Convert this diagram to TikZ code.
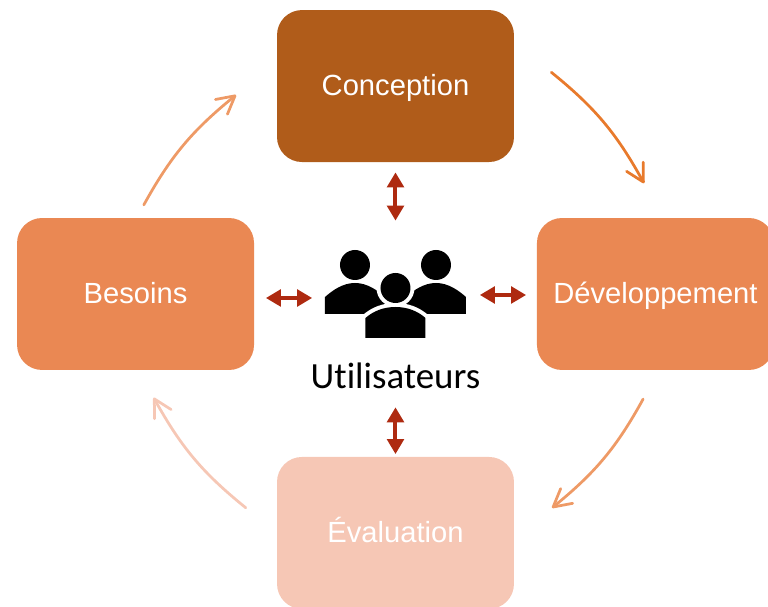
\documentclass[tikz,border=0pt]{standalone}
\usepackage{fontspec}
\setmainfont{Liberation Sans}
\newfontfamily\usrfont[Ligatures=NoCommon]{Carlito}
\usetikzlibrary{positioning}
\usetikzlibrary{arrows.meta}
\definecolor{conColor}{HTML}{B05C1A}
\definecolor{midColor}{HTML}{EA8853}
\definecolor{evaColor}{HTML}{F6C7B5}
\definecolor{lineColor}{HTML}{AE2A10}
\definecolor{darkCycle}{HTML}{E87A2C}
\definecolor{midCycle}{HTML}{EE9A66}
\pgfdeclarearrow{
  name=Vee,
  parameters={\the\pgfarrowlength,\the\pgfarrowwidth},
  defaults={length=0.35cm, width=0.38cm},
  setup code={
    \pgfarrowssettipend{0pt}
    \pgfarrowssetlineend{-0.5\pgflinewidth}
    \pgfarrowssetbackend{-\pgfarrowlength}
    \pgfarrowssavethe\pgfarrowlength
    \pgfarrowssavethe\pgfarrowwidth
  },
  drawing code={
    \pgfsetroundcap
    \pgfsetroundjoin
    \pgfsetdash{}{0pt}
    \pgfpathmoveto{\pgfqpoint{-\pgfarrowlength}{0.5\pgfarrowwidth}}
    \pgfpathlineto{\pgfpointorigin}
    \pgfpathlineto{\pgfqpoint{-\pgfarrowlength}{-0.5\pgfarrowwidth}}
    \pgfusepathqstroke
  }
}

\begin{document}
\begin{tikzpicture}[
    x=0.02cm, y=0.02cm,
    node distance=4.16cm and 5.2cm, % Centre-to-centre box spacing
    ]
% -------------------------------------------------
\tikzset{
  base/.style={on grid, align=center, inner sep=0pt},
  stage/.style={base, rectangle, rounded corners=0.5cm, text=white,
    text height=0.53cm, text depth=0.15cm,
    minimum width=4.74cm, minimum height=3.04cm, font=\fontsize{16.6}{20}\selectfont},
  link/.style={draw=lineColor, line width=0.08cm,
    {Triangle[width=0.33cm,length=0.3cm]}-{Triangle[width=0.33cm,length=0.3cm]}},
  cycle/.style={line width=0.055cm, line cap=round, bend left=11, -{Vee}}
}
\newcommand{\frontbody}{(usr.center) ++(-30,-44) -- ++(0,20)
    .. controls ++(8,7) and ++(-12,0) .. ++(30,11)
    .. controls ++(12,0) and ++(-8,7) .. ++(30,-11) -- ++(0,-20) -- cycle}
\useasboundingbox (-395.5,-313) rectangle (372.5,294);
% -------------------------------------------------
% Placing the nodes

\node [base, minimum width=2.82cm, minimum height=1.76cm] (usr) at (0,0) {};
\node [stage, fill=conColor, above=of usr] (con) {Conception};
\node [stage, fill=midColor, left=of usr] (bes) {Besoins};
\node [stage, fill=midColor, right=of usr] (dev) {Développement};
\node [stage, fill=evaColor, below=4.78cm of usr] (eva) {Évaluation};
\node [base, below=1.64cm of usr, font=\usrfont\fontsize{21}{25}\selectfont] (lbl) {Utilisateurs};

% The group icon
\foreach \dx in {-40.5,40.5}{
  \fill ([xshift=\dx*0.02cm, yshift=0.58cm]usr.center) circle [radius=15];
  \fill ([xshift=\dx*0.02cm]usr.center) ++(-30,-20) -- ++(0,17)
    .. controls ++(8,7) and ++(-12,0) .. ++(30,14)
    .. controls ++(12,0) and ++(-8,7) .. ++(30,-14) -- ++(0,-17) -- cycle;
}
\fill [white] (usr.center) ++(0,6) circle [radius=19];
\path [draw=white, line width=0.16cm] \frontbody;
\fill \frontbody;
\fill (usr.center) ++(0,6) circle [radius=15];

% Free ends of the cycle arrows
\coordinate (c1) at (54.9:271);
\coordinate (c2) at (24.3:272);
\coordinate (d1) at (-23:269);
\coordinate (d2) at (-53.5:265);
\coordinate (e1) at (235:261);
\coordinate (e2) at (203.5:263);
\coordinate (b1) at (160.5:267);
\coordinate (b2) at (129:255);

\path [link, shorten <=0.2cm, shorten >=0.58cm] (con.south) -- (usr.north);
\path [link, shorten <=0.23cm, shorten >=0.25cm] ([yshift=-0.08cm]bes.east) -- ([yshift=-0.08cm]usr.west);
\path [link, shorten <=0.21cm, shorten >=0.27cm] ([yshift=-0.02cm]dev.west) -- ([yshift=-0.02cm]usr.east);
\path [link, shorten <=0.36cm, shorten >=0.05cm] (lbl.south) -- (eva.north);

\draw [cycle, color=darkCycle] (c1) to (c2);
\draw [cycle, color=midCycle] (d1) to (d2);
\draw [cycle, color=evaColor] (e1) to (e2);
\draw [cycle, color=midCycle] (b1) to (b2);

\end{tikzpicture}
\end{document}
